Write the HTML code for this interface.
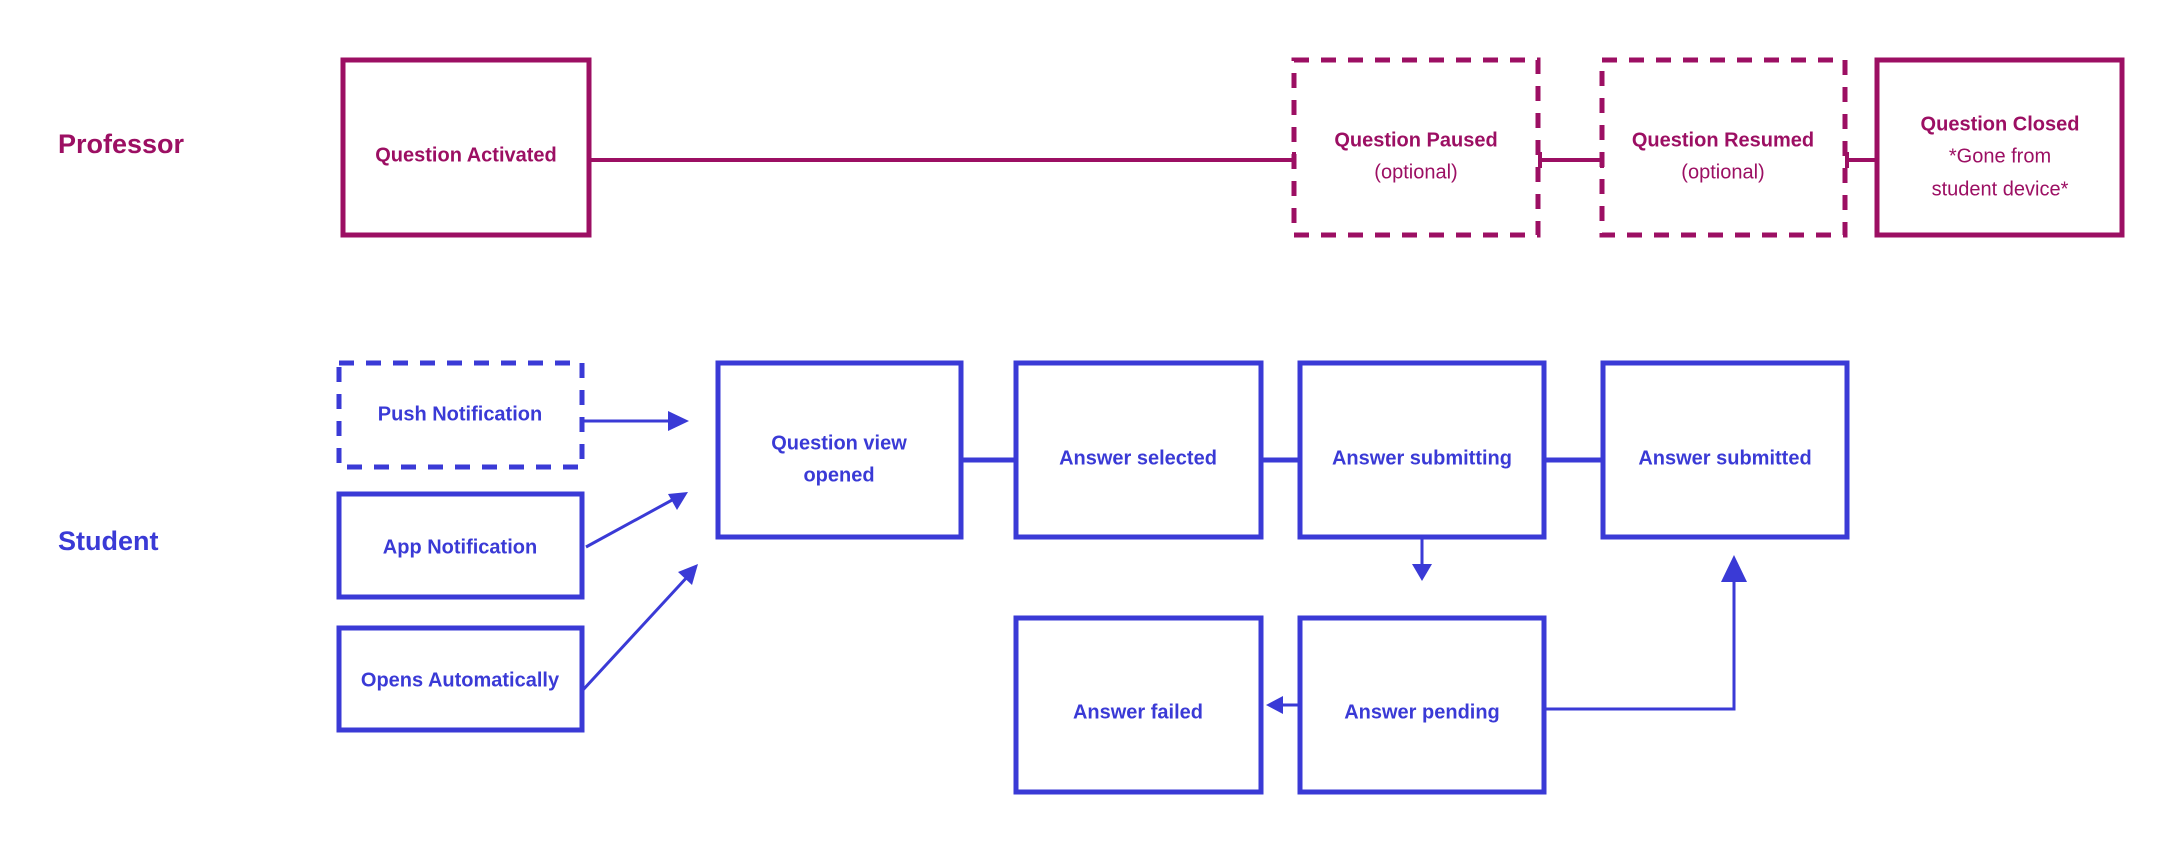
<!DOCTYPE html>
<html><head><meta charset="utf-8"><style>
html,body{margin:0;padding:0;background:#fff;}
svg{display:block;}
text{font-family:"Liberation Sans",sans-serif;font-weight:bold;text-anchor:middle;dominant-baseline:middle;}
.m{fill:#9c0f63;font-size:20px;}
.b{fill:#3a3ad6;font-size:20px;}
.mn{fill:#9c0f63;font-size:20px;font-weight:normal;}
</style></head><body>
<svg width="2184" height="850" viewBox="0 0 2184 850">
<text x="58" y="146" class="m" style="font-size:27px;text-anchor:start">Professor</text>
<text x="58" y="543" class="b" style="font-size:27px;text-anchor:start">Student</text>

<g fill="none" stroke="#9c0f63" stroke-width="5">
<rect x="343" y="60" width="246" height="175"/>
<rect x="1294" y="60" width="244" height="175" stroke-dasharray="15 12"/>
<rect x="1602" y="60" width="243" height="175" stroke-dasharray="15 12"/>
<rect x="1877" y="60" width="245" height="175"/>
<g stroke-width="4">
<line x1="591" y1="160" x2="1292" y2="160"/>
<line x1="1540" y1="160" x2="1600" y2="160"/>
<line x1="1847" y1="160" x2="1875" y2="160"/>
<line x1="1294" y1="152" x2="1294" y2="168"/>
<line x1="1540" y1="152" x2="1540" y2="168"/>
<line x1="1602" y1="152" x2="1602" y2="168"/>
<line x1="1847" y1="152" x2="1847" y2="168"/>
</g>
</g>
<text x="466" y="156" class="m">Question Activated</text>
<text x="1416" y="141" class="m">Question Paused</text>
<text x="1416" y="173" class="mn">(optional)</text>
<text x="1723" y="141" class="m">Question Resumed</text>
<text x="1723" y="173" class="mn">(optional)</text>
<text x="2000" y="125" class="m">Question Closed</text>
<text x="2000" y="157" class="mn">*Gone from</text>
<text x="2000" y="190" class="mn">student device*</text>

<g fill="none" stroke="#3a3ad6" stroke-width="5">
<rect x="339" y="363" width="243" height="104" stroke-dasharray="15 12"/>
<rect x="339" y="494" width="243" height="103"/>
<rect x="339" y="628" width="243" height="102"/>
<rect x="718" y="363" width="243" height="174"/>
<rect x="1016" y="363" width="245" height="174"/>
<rect x="1300" y="363" width="244" height="174"/>
<rect x="1603" y="363" width="244" height="174"/>
<rect x="1016" y="618" width="245" height="174"/>
<rect x="1300" y="618" width="244" height="174"/>
<g stroke-width="5">
<line x1="963" y1="460" x2="1014" y2="460"/>
<line x1="1263" y1="460" x2="1298" y2="460"/>
<line x1="1546" y1="460" x2="1601" y2="460"/>
</g>
<g stroke-width="3">
<line x1="584" y1="421" x2="672" y2="421"/>
<line x1="586" y1="547" x2="674" y2="499"/>
<line x1="582" y1="691" x2="689" y2="575"/>
<line x1="1422" y1="539" x2="1422" y2="566"/>
<line x1="1298" y1="705" x2="1280" y2="705"/>
<polyline points="1546,709 1734,709 1734,580"/>
</g>
</g>
<g fill="#3a3ad6">
<polygon points="689,421 668,411 668,431"/>
<polygon points="688,492 668,494 677,510"/>
<polygon points="698,564 678,572 692,585"/>
<polygon points="1422,581 1412,564 1432,564"/>
<polygon points="1266,705 1283,696 1283,714"/>
<polygon points="1734,555 1721,582 1747,582"/>
</g>
<text x="460" y="415" class="b">Push Notification</text>
<text x="460" y="548" class="b">App Notification</text>
<text x="460" y="681" class="b">Opens Automatically</text>
<text x="839" y="444" class="b">Question view</text>
<text x="839" y="476" class="b">opened</text>
<text x="1138" y="459" class="b">Answer selected</text>
<text x="1422" y="459" class="b">Answer submitting</text>
<text x="1725" y="459" class="b">Answer submitted</text>
<text x="1138" y="713" class="b">Answer failed</text>
<text x="1422" y="713" class="b">Answer pending</text>
</svg>
</body></html>
